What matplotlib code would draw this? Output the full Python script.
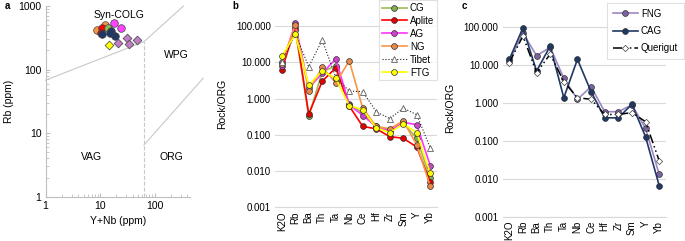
import numpy as np
import matplotlib
matplotlib.use("Agg")
from matplotlib import pyplot as plt

plt.rcParams['font.family'] = ['Liberation Sans', 'DejaVu Sans']

# ---- panel a: Rb vs Y+Nb discrimination (Pearce) ----
a_groups = ["NG", "Aplite", "CG", "CAG", "AG", "FNG", "FTG"]
a_ynb = {
    "NG": [8.7, 12.4],
    "Aplite": [10.8, 10.5],
    "CG": [13.8],
    "CAG": [11.0, 15.9, 18.8, 15.2],
    "AG": [18.3, 24.3],
    "FNG": [30.9, 47.1, 21.7, 34.1],
    "FTG": [14.6],
}
a_rb = {
    "NG": [419, 502],
    "Aplite": [446, 372],
    "CG": [446],
    "CAG": [362, 404, 341, 372],
    "AG": [534, 455],
    "FNG": [310, 291, 259, 249],
    "FTG": [243],
}
a_fill = {"NG": "#f79646", "Aplite": "#ff0000", "CG": "#8dbb55", "CAG": "#1f3864",
          "AG": "#ff44ff", "FNG": "#c07cc4", "FTG": "#ffff00"}
a_mark = {"NG": "o", "Aplite": "o", "CG": "o", "CAG": "o", "AG": "o", "FNG": "D", "FTG": "D"}

# field boundaries
bnd_syn_x = [1, 64]
bnd_syn_y = [68, 274]
bnd_wpg_x = [64, 340]
bnd_wpg_y = [274, 1000]
bnd_vert_x = [64, 64]
bnd_vert_y = [1, 274]
bnd_org_x = [64, 780]
bnd_org_y = [6.5, 73]

# ---- panel b: spider diagram ----
elements = ["K2O", "Rb", "Ba", "Th", "Ta", "Nb", "Ce", "Hf", "Zr", "Sm", "Y", "Yb"]
cg = [10, 80, 0.32, 5.5, 7.9, 0.70, 0.40, 0.16, 0.13, 0.21, 0.080, 0.0063]
aplite = [6.1, 90, 0.37, 3.0, 7.0, 0.62, 0.17, 0.146, 0.089, 0.080, 0.046, 0.005]
ag = [8.0, 118, 1.9, 5.0, 12.3, 0.68, 0.34, 0.17, 0.13, 0.22, 0.19, 0.0142]
ng = [9.0, 106, 1.6, 7.3, 2.7, 10.9, 0.54, 0.17, 0.146, 0.24, 0.053, 0.0038]
tibet = [10, 60, 7.6, 41, 3.8, 1.6, 1.55, 0.43, 0.28, 0.54, 0.36, 0.043]
ftg = [14.5, 59, 2.36, 5.8, 3.6, 0.64, 0.49, 0.155, 0.115, 0.20, 0.115, 0.0087]

# ---- panel c ----
fng = [12.5, 68, 17.3, 28.7, 4.4, 1.23, 2.63, 0.58, 0.58, 0.88, 0.21, 0.0131]
cag = [13.8, 93, 6.8, 31, 1.35, 13.9, 1.95, 0.40, 0.40, 0.91, 0.127, 0.0066]
querigut = [11.3, 57, 6.2, 19, 3.6, 1.35, 1.23, 0.49, 0.49, 0.55, 0.316, 0.0296]

W, H = 685, 241
fig = plt.figure(figsize=(W / 100, H / 100), dpi=100)

def box(l, r, top, bot):
    return [l / W, 1 - bot / H, (r - l) / W, (bot - top) / H]

grid_c = "#d9d9d9"
axis_c = "#bfbfbf"
fs = 7

# panel a
ax = fig.add_axes(box(45.5, 190, 6, 196.7))
ax.set_xscale("log")
ax.set_yscale("log")
ax.set_xlim(1, 448)
ax.set_ylim(1, 1000)
for xs, ys, ls in [(bnd_syn_x, bnd_syn_y, "-"), (bnd_wpg_x, bnd_wpg_y, "-"),
                   (bnd_vert_x, bnd_vert_y, "--"), (bnd_org_x, bnd_org_y, "-")]:
    ax.plot(xs, ys, color="#c8c8c8", lw=0.8, ls=ls, clip_on=False, zorder=1)
for g in a_groups:
    ax.scatter(a_ynb[g], a_rb[g], s=30 if a_mark[g] == "o" else 20, marker=a_mark[g],
               c=a_fill[g], edgecolors="#404040", linewidths=0.5, zorder=3)
for s in ["top", "right"]:
    ax.spines[s].set_visible(False)
for s in ["left", "bottom"]:
    ax.spines[s].set_color(axis_c)
    ax.spines[s].set_linewidth(0.8)
ax.set_xticks([1, 10, 100])
ax.set_xticklabels(["1", "10", "100"])
ax.set_yticks([1, 10, 100, 1000])
ax.set_yticklabels(["1", "10", "100", "1000"])
ax.tick_params(which="both", labelsize=7.5, color=axis_c, direction="in", length=3, pad=3)
ax.tick_params(which="minor", length=2)
ax.text(22, 720, "Syn-COLG", fontsize=7.5, ha="center", va="center")
ax.text(250, 170, "WPG", fontsize=7.5, ha="center", va="center")
ax.text(7, 4.2, "VAG", fontsize=7.5, ha="center", va="center")
ax.text(200, 4.2, "ORG", fontsize=7.5, ha="center", va="center")
ax.set_xlabel("Y+Nb (ppm)", fontsize=7.5, labelpad=4)
ax.set_ylabel("Rb (ppm)", fontsize=7.5, labelpad=3)
fig.text(5 / W, 1 - 6 / H, "a", fontsize=7, fontweight="bold", va="center")

def spider(ax, ylim_top):
    ax.set_yscale("log")
    ax.set_ylim(0.001, ylim_top)
    ax.set_xlim(-0.5, len(elements) - 0.5)
    ax.set_yticks([0.001, 0.01, 0.1, 1, 10, 100])
    ax.set_yticklabels(["0.001", "0.010", "0.100", "1.000", "10.000", "100.000"])
    ax.yaxis.set_minor_locator(matplotlib.ticker.NullLocator())
    ax.set_xticks(range(len(elements)))
    ax.set_xticklabels(elements, rotation=90)
    ax.grid(axis="y", color=grid_c, lw=0.8)
    ax.set_axisbelow(True)
    for s in ["top", "right", "left"]:
        ax.spines[s].set_visible(False)
    ax.spines["bottom"].set_color(grid_c)
    ax.tick_params(labelsize=fs, length=0, pad=3)
    ax.set_ylabel("Rock/ORG", fontsize=7.5, labelpad=6)

x = np.arange(len(elements))
mk = dict(marker="o", ms=4.2, mec="#303030", mew=0.5)

# panel b
bx = fig.add_axes(box(275, 437, 0, 207.3))
spider(bx, 521)
bx.plot(x, cg, color="#9bbb59", lw=1.2, mfc="#7fae4f", label="CG", **mk)
bx.plot(x, aplite, color="#ff0000", lw=1.2, mfc="#e00000", label="Aplite", **mk)
bx.plot(x, ag, color="#ff33ff", lw=1.2, mfc="#cc44cc", label="AG", **mk)
bx.plot(x, ng, color="#f79646", lw=1.2, mfc="#e8894a", label="NG", **mk)
bx.plot(x, tibet, color="#202020", lw=0.8, ls=":", marker="^", ms=4.2, mfc="white",
        mec="#606060", mew=0.6, label="Tibet")
bx.plot(x, ftg, color="#ffff00", lw=1.2, mfc="#ffff00", label="FTG", **mk)
leg = bx.legend(loc="upper right", bbox_to_anchor=(1.0, 1.0), fontsize=fs, frameon=True,
                fancybox=False, edgecolor=grid_c, labelspacing=0.3, handlelength=2.6,
                borderaxespad=0, borderpad=0.3, handletextpad=0.3)
leg.get_frame().set_linewidth(0.8)
fig.text(232 / W, 1 - 6 / H, "b", fontsize=7, fontweight="bold", va="center")

# panel c
cx = fig.add_axes(box(502.5, 666, 0, 216.7))
spider(cx, 505)
cx.plot(x, fng, color="#9d88c3", lw=1.2, mfc="#7f64a2", label="FNG", **mk)
cx.plot(x, cag, color="#1f3864", lw=1.2, mfc="#1f3864", label="CAG", **mk)
cx.plot(x, querigut, color="black", lw=1.1, ls=(0, (6, 2, 1, 2, 1, 2)), marker="D", ms=3.2,
        mfc="white", mec="#404040", mew=0.5, label="Querigut")
leg = cx.legend(loc="upper right", bbox_to_anchor=(684 / W, 1 - 3 / H),
                bbox_transform=fig.transFigure, fontsize=fs, frameon=True, fancybox=False,
                edgecolor=grid_c, labelspacing=0.75, handlelength=2.6, borderaxespad=0,
                borderpad=0.6, handletextpad=0.3)
leg.get_frame().set_linewidth(0.8)
fig.text(462 / W, 1 - 6 / H, "c", fontsize=7, fontweight="bold", va="center")

fig.savefig("out.png", dpi=100)
